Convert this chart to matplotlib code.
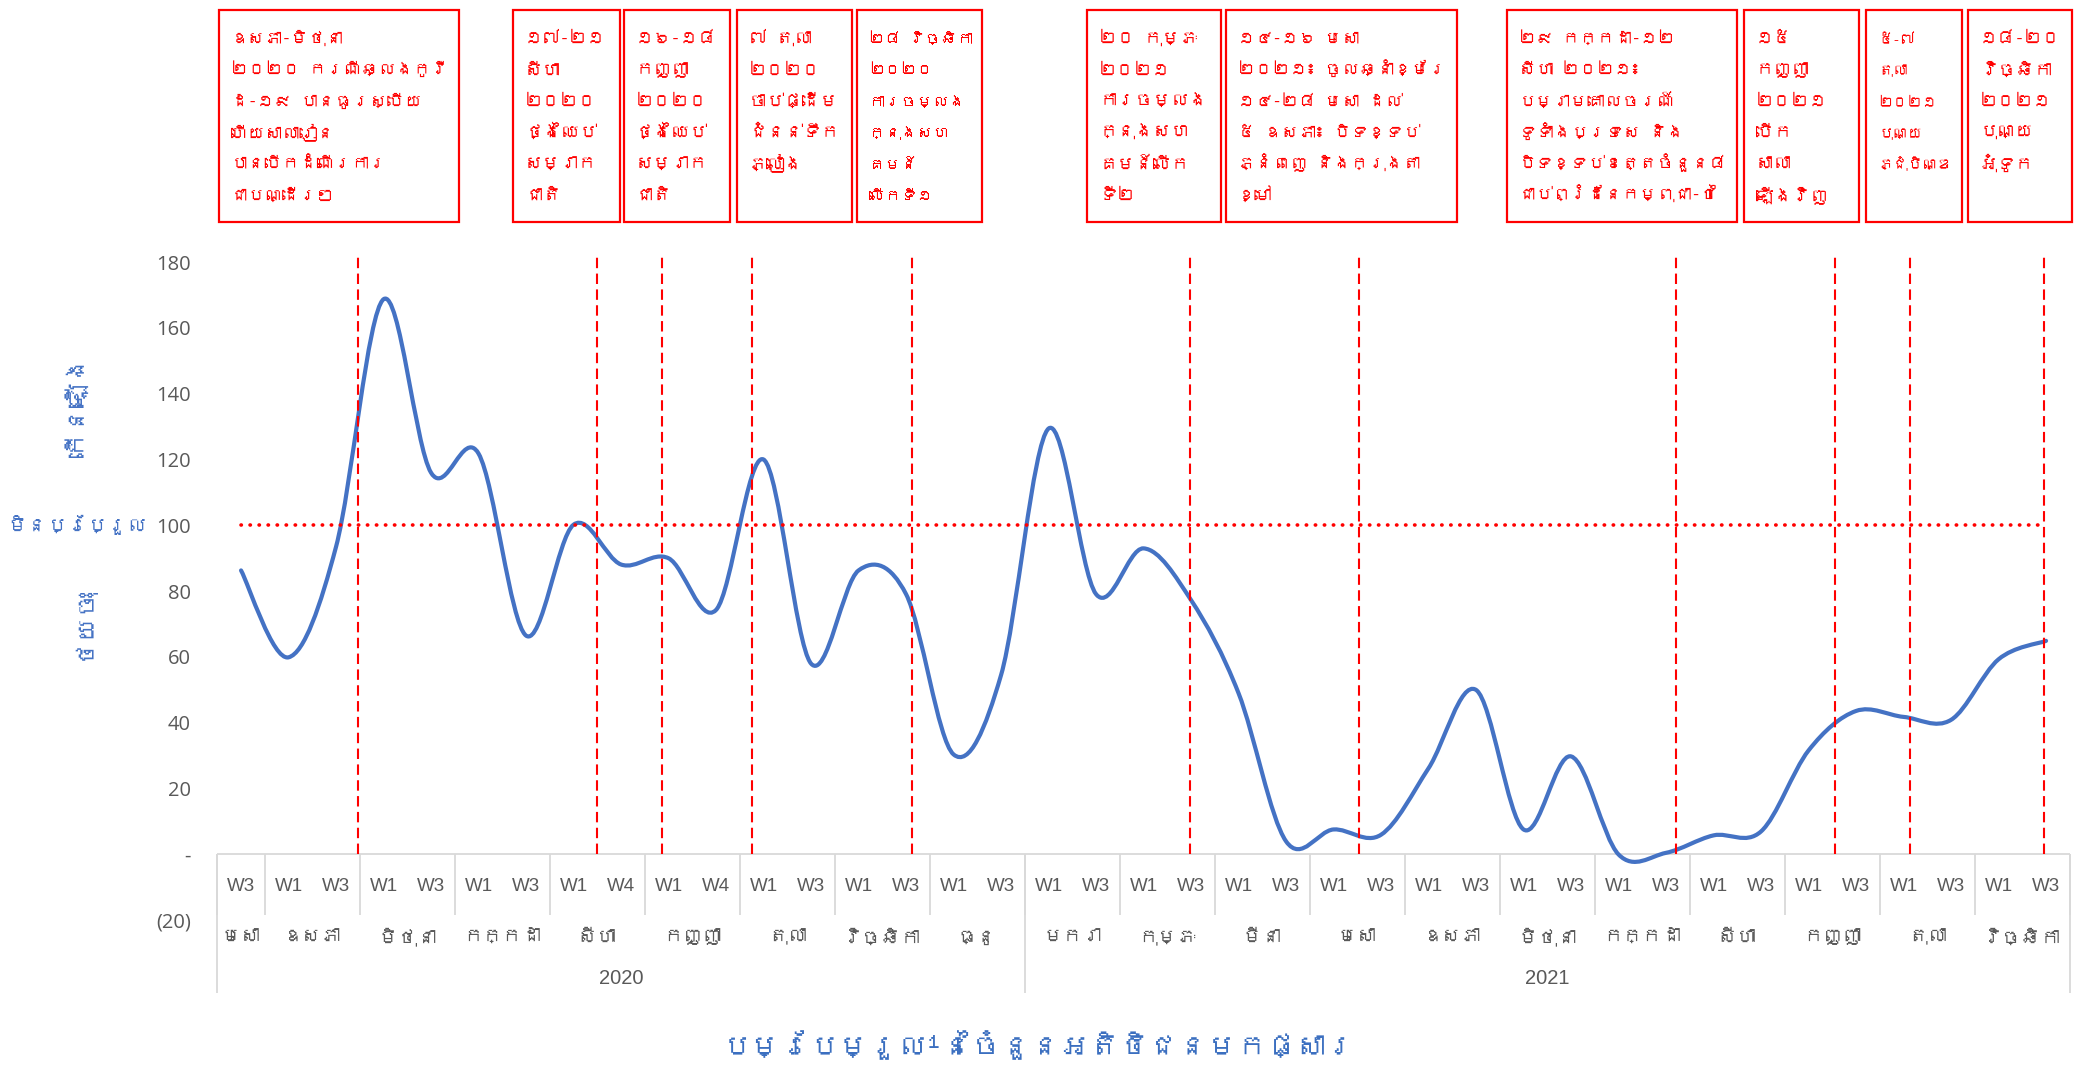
import warnings
import matplotlib
matplotlib.use("Agg")
import matplotlib.pyplot as plt
from matplotlib import font_manager
from matplotlib.ft2font import FT2Font
from matplotlib.path import Path
from matplotlib.patches import PathPatch, Rectangle
from matplotlib.transforms import blended_transform_factory

warnings.filterwarnings("ignore", message="Glyph")

# ---- data -------------------------------------------------------------
years = ["2020", "2021"]
months_per_year = [9, 11]
month_names = ["មេសា", "ឧសភា", "មិថុនា", "កក្កដា", "សីហា", "កញ្ញា", "តុលា", "វិច្ឆិកា", "ធ្នូ",
               "មករា", "កុម្ភៈ", "មីនា", "មេសា", "ឧសភា", "មិថុនា", "កក្កដា", "សីហា", "កញ្ញា",
               "តុលា", "វិច្ឆិកា"]
month_weeks = [["W3"], ["W1", "W3"], ["W1", "W3"], ["W1", "W3"], ["W1", "W4"], ["W1", "W4"],
               ["W1", "W3"], ["W1", "W3"], ["W1", "W3"]] + [["W1", "W3"]] * 11

visitors = [86.3, 59.9, 93.5, 168.7, 116.0, 121.8, 66.5, 100.2, 88.1, 90.0,
            74.3, 120.0, 58.0, 86.3, 79.1, 30.4, 54.5, 129.4, 79.1, 93.0,
            77.3, 49.0, 4.0, 7.6, 6.0, 26.2, 50.0, 7.6, 29.8, 0.0,
            0.5, 5.8, 7.0, 31.6, 43.6, 41.8, 40.9, 59.3, 64.9]
baseline = 100

# event markers, in week-slot units
event_pos = [2.46, 7.49, 8.86, 10.76, 14.13, 19.98, 23.54, 30.2, 33.55, 35.13, 37.96]
event_text = [
    "ឧសភា-មិថុនា\n២០២០ ករណីឆ្លងកូវី\nដ-១៩ បានធូរស្បើយ\nហើយសាលារៀន\nបានបើកដំណើរការ\nជាបណ្ដើរៗ",
    "១៧-២១\nសីហា\n២០២០\nថ្ងៃឈប់\nសម្រាក\nជាតិ",
    "១៦-១៨\nកញ្ញា\n២០២០\nថ្ងៃឈប់\nសម្រាក\nជាតិ",
    "៧ តុលា\n២០២០\nចាប់ផ្ដើម\nជំនន់ទឹក\nភ្លៀង",
    "២៨ វិច្ឆិកា\n២០២០\nការចម្លង\nក្នុងសហ\nគមន៍\nលើកទី១",
    "២០ កុម្ភៈ\n២០២១\nការចម្លង\nក្នុងសហ\nគមន៍លើក\nទី២",
    "១៤-១៦ មេសា\n២០២១៖ ចូលឆ្នាំខ្មែរ\n១៤-២៨ មេសា ដល់\n៥ ឧសភា៖ បិទខ្ទប់\nភ្នំពេញ និងក្រុងតា\nខ្មៅ",
    "២៩ កក្កដា-១២\nសីហា ២០២១៖\nបម្រាមគោលចរណ៍\nទូទាំងប្រទេស និង\nបិទខ្ទប់ខេត្តចំនួន៨\nជាប់ព្រំដែនកម្ពុជា-ថៃ",
    "១៥\nកញ្ញា\n២០២១\nបើក\nសាលា\nឡើងវិញ",
    "៥-៧\nតុលា\n២០២១\nបុណ្យ\nភ្ជុំបិណ្ឌ",
    "១៨-២០\nវិច្ឆិកា\n២០២១\nបុណ្យ\nអុំទូក",
]
yticks = [-20, 0, 20, 40, 60, 80, 100, 120, 140, 160, 180]
ytick_labels = ["(20)", "-", "20", "40", "60", "80", "100", "120", "140", "160", "180"]

title = "បម្រែបម្រួល¹នៃចំនួនអតិថិជនមកផ្សារ"
label_up = "កើនឡើង"
label_same = "មិនប្រែប្រួល"
label_down = "ថយចុះ"

# ---- layout (pixels of the 2074x1070 canvas) ---------------------------
W, H = 2074, 1070
box_x = [(219, 459), (513, 620), (624, 730), (737, 852), (857, 982), (1087, 1221),
         (1226, 1457), (1507, 1737), (1744, 1859), (1866, 1962), (1968, 2072)]
box_top, box_bottom = 10, 222
first_baseline, line_step = 44, 31.4

BLUE = "#4472C4"
RED = "#FF0000"
GREY = "#595959"
LINE_GREY = "#D9D9D9"


def find_khmer():
    seen = set()
    for f in font_manager.fontManager.ttflist:
        if f.fname in seen:
            continue
        seen.add(f.fname)
        try:
            if 0x1780 in FT2Font(f.fname).get_charmap():
                return f.name
        except Exception:
            pass
    return None


kh = find_khmer()
KH = [kh, "DejaVu Sans"] if kh else ["DejaVu Sans"]
NUM = ["Open Sans", "DejaVu Sans"]
NARROW = ["Liberation Sans Narrow", "Liberation Sans", "DejaVu Sans"]

plt.rcParams["font.family"] = NUM


def smooth_path(xs, ys):
    # Excel style smoothed line: cubic bezier through every point
    n = len(xs)
    verts = [(xs[0], ys[0])]
    codes = [Path.MOVETO]
    for i in range(n - 1):
        x0, y0 = xs[max(i - 1, 0)], ys[max(i - 1, 0)]
        x1, y1 = xs[i], ys[i]
        x2, y2 = xs[i + 1], ys[i + 1]
        x3, y3 = xs[min(i + 2, n - 1)], ys[min(i + 2, n - 1)]
        verts += [(x1 + (x2 - x0) / 6, y1 + (y2 - y0) / 6),
                  (x2 - (x3 - x1) / 6, y2 - (y3 - y1) / 6),
                  (x2, y2)]
        codes += [Path.CURVE4] * 3
    return Path(verts, codes)


def fit_width(texts, maxw):
    # shrink a group of texts together until the widest fits maxw pixels
    r = fig.canvas.get_renderer()
    for _ in range(30):
        w = max(t.get_window_extent(r).width for t in texts)
        if w <= maxw:
            break
        for t in texts:
            t.set_fontsize(t.get_fontsize() * 0.96)


n = len(visitors)
xs = list(range(n))
ymin, ymax = -20, 182.5

fig = plt.figure(figsize=(W / 100, H / 100), dpi=100)
ax = fig.add_axes([217.3 / W, (H - 920.3) / H, 1852.5 / W, (920.3 - 253.8) / H])
ax.set_xlim(-0.5, n - 0.5)
ax.set_ylim(ymin, ymax)
for s in ax.spines.values():
    s.set_visible(False)
ax.set_xticks([])
ax.set_yticks(yticks, ytick_labels)
ax.tick_params(axis="y", length=0, pad=19, labelsize=14.5, labelcolor=GREY)

# category axis at zero
ax.hlines(0, -0.5, n - 0.5, color=LINE_GREY, lw=1.3, zorder=1)

# week row / month row / year row
bounds = [-0.5]
for wk in month_weeks:
    bounds.append(bounds[-1] + len(wk))
ax.vlines(bounds, -18.4, 0, color=LINE_GREY, lw=1.3, clip_on=False)

year_bounds = [-0.5]
k = 0
for m in months_per_year:
    year_bounds.append(bounds[k + m])
    k += m
ax.vlines(year_bounds, -42.1, 0, color=LINE_GREY, lw=1.3, clip_on=False)

slot_px = 1852.5 / n
month_texts = []
slot = 0
for name, wk in zip(month_names, month_weeks):
    for j, w in enumerate(wk):
        ax.text(slot + j, -9.8, w, ha="center", va="center", fontsize=13.5,
                color=GREY, family=NARROW)
    t = ax.text(slot + (len(wk) - 1) / 2, -25, name, ha="center", va="center",
                fontsize=14, color=GREY, family=KH)
    month_texts.append((t, len(wk) * slot_px - 6))
    slot += len(wk)

for yr, a, b in zip(years, year_bounds[:-1], year_bounds[1:]):
    ax.text((a + b) / 2, -37.8, yr, ha="center", va="center", fontsize=14.5,
            color=GREY, family=NARROW)

# data line
ax.add_patch(PathPatch(smooth_path(xs, visitors), fill=False, edgecolor=BLUE,
                       lw=3, capstyle="round", joinstyle="round", zorder=3))

# reference line at 100 and event markers
ax.hlines(baseline, xs[0], xs[-1], color=RED, lw=2.6,
          linestyle=(0, (0.1, 2.4)), capstyle="round", zorder=4)
ax.vlines(event_pos, 0, ymax, color=RED, lw=1.5, linestyle=(0, (5, 2.6)),
          zorder=4, clip_on=False)

# y-axis descriptors
tr = blended_transform_factory(fig.transFigure, ax.transData)
t_up = ax.text(77 / W, 136, label_up, transform=tr, rotation=90, ha="center",
               va="center", fontsize=18, color=BLUE, family=KH)
t_same = ax.text(147 / W, 100, label_same, transform=tr, ha="right", va="center",
                 fontsize=17, color=BLUE, family=KH)
t_down = ax.text(82 / W, 70.4, label_down, transform=tr, rotation=90, ha="center",
                 va="center", fontsize=18, color=BLUE, family=KH)

# event boxes, one text per printed line
box_lines = []
for (x0, x1), txt in zip(box_x, event_text):
    fig.add_artist(Rectangle((x0 / W, 1 - box_bottom / H), (x1 - x0) / W,
                             (box_bottom - box_top) / H, transform=fig.transFigure,
                             fill=False, edgecolor=RED, lw=1.6))
    lines = []
    for k, ln in enumerate(txt.split("\n")):
        lines.append(fig.text((x0 + 12) / W, 1 - (first_baseline + k * line_step) / H, ln,
                              ha="left", va="baseline", fontsize=13, color=RED, family=KH))
    box_lines.append((lines, x1 - x0 - 20))

t_title = fig.text(1039 / W, 1 - 1045 / H, title, ha="center", va="center", fontsize=24,
                   color="#3B6FC0", family=KH)

# shrink texts whose unshaped width would not fit their space
fig.canvas.draw()
for lines, maxw in box_lines:
    fit_width(lines, maxw)
for t, maxw in month_texts:
    fit_width([t], maxw)
fit_width([t_same], 140)
fit_width([t_title], 660)

fig.savefig("out.png", dpi=100, facecolor="white")
